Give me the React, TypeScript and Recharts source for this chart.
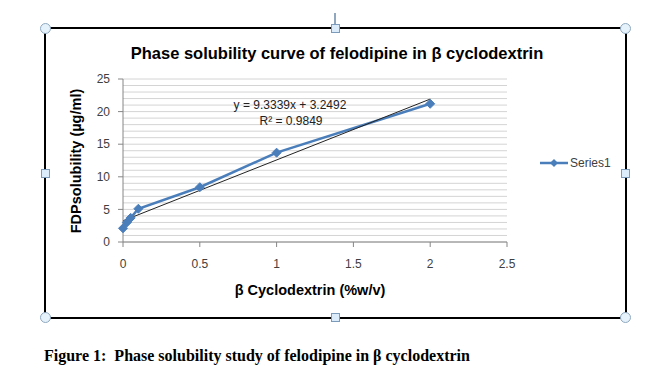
import { LineChart, Line, XAxis, YAxis, CartesianGrid, Legend } from 'recharts';

const concentration = [0, 0.025, 0.05, 0.1, 0.5, 1, 2];
const solubility = [2.1, 3.0, 3.7, 5.1, 8.4, 13.7, 21.2];
const trendX = [0, 2];
const trendY = [3.25, 21.92];
const xTicks = [0, 0.5, 1, 1.5, 2, 2.5];
const yTicks = [0, 5, 10, 15, 20, 25];
const yGrid = [0, 1, 2, 3, 4, 5, 6, 7, 8, 9, 10, 11, 12, 13, 14, 15, 16, 17, 18, 19, 20, 21, 22, 23, 24, 25];

const seriesData = concentration.map((x, i) => ({ x, y: solubility[i] }));
const trendData = trendX.map((x, i) => ({ x, y: trendY[i] }));

const FONT = '"Liberation Sans", Arial, sans-serif';
const BLUE = '#4a7ebb';

const Diamond = (props: any) => {
  const { cx, cy } = props;
  if (cx == null || cy == null) return null;
  const r = 4.5;
  return (
    <path
      d={`M${cx},${cy - r}L${cx + r},${cy}L${cx},${cy + r}L${cx - r},${cy}Z`}
      fill={BLUE}
      stroke={BLUE}
    />
  );
};

const LegendBox = () => (
  <div style={{ display: 'flex', alignItems: 'center', fontFamily: FONT, fontSize: 12, color: '#404040' }}>
    <svg width={28} height={10}>
      <line x1={0} y1={5} x2={28} y2={5} stroke={BLUE} strokeWidth={2.5} />
      <path d="M14,1L18,5L14,9L10,5Z" fill={BLUE} />
    </svg>
    <span style={{ marginLeft: 2 }}>Series1</span>
  </div>
);

const handleCircle = (x: number, y: number) => (
  <div
    style={{
      position: 'absolute',
      left: x - 5,
      top: y - 5,
      width: 9,
      height: 9,
      borderRadius: '50%',
      background: '#e6f2fb',
      border: '1px solid #8fa8bf',
    }}
  />
);

const handleSquare = (x: number, y: number) => (
  <div
    style={{
      position: 'absolute',
      left: x - 4,
      top: y - 4,
      width: 7,
      height: 7,
      background: '#dcecfa',
      border: '1px solid #7c9bbb',
    }}
  />
);

export default function App() {
  return (
    <div style={{ position: 'absolute', left: 0, top: 0, width: 661, height: 391, background: '#fff' }}>
      <div
        style={{
          position: 'absolute',
          left: 44,
          top: 27,
          width: 579,
          height: 288,
          border: '2px solid #000',
        }}
      />
      <div style={{ position: 'absolute', left: 334, top: 13, width: 2, height: 11, background: '#8fa8bf' }} />
      <div style={{ position: 'absolute', left: 0, top: 0 }}>
        <LineChart width={661} height={391} margin={{ top: 79, right: 154, bottom: 109, left: 83 }}>
          <CartesianGrid vertical={false} horizontalValues={yGrid} stroke="#d4d4d4" />
          <XAxis
            type="number"
            dataKey="x"
            domain={[0, 2.5]}
            ticks={xTicks}
            interval={0}
            height={40}
            tickSize={5}
            tickMargin={12}
            stroke="#868686"
            tick={{ fill: '#404040', fontSize: 12, fontFamily: FONT }}
          />
          <YAxis
            type="number"
            dataKey="y"
            domain={[0, 25]}
            ticks={yTicks}
            interval={0}
            width={40}
            tickSize={5}
            tickMargin={8}
            stroke="#868686"
            tick={{ fill: '#404040', fontSize: 12, fontFamily: FONT }}
          />
          <Legend
            layout="horizontal"
            verticalAlign="middle"
            align="center"
            wrapperStyle={{ left: 540, top: 156, width: 'auto' }}
            content={() => <LegendBox />}
          />
          <Line
            data={seriesData}
            dataKey="y"
            type="linear"
            stroke={BLUE}
            strokeWidth={2.5}
            dot={<Diamond />}
            isAnimationActive={false}
          />
          <Line
            data={trendData}
            dataKey="y"
            type="linear"
            stroke="#222"
            strokeWidth={1}
            dot={false}
            isAnimationActive={false}
          />
          <text x={337} y={59} textAnchor="middle" fontFamily={FONT} fontSize={16.5} fontWeight="bold" fill="#000">
            Phase solubility curve of felodipine in β cyclodextrin
          </text>
          <text x={290} y={109} textAnchor="middle" fontFamily={FONT} fontSize={12} fill="#222">
            y = 9.3339x + 3.2492
          </text>
          <text x={291} y={125} textAnchor="middle" fontFamily={FONT} fontSize={12} fill="#222">
            R² = 0.9849
          </text>
          <text x={310} y={295} textAnchor="middle" fontFamily={FONT} fontSize={14.5} fontWeight="bold" fill="#000">
            β Cyclodextrin (%w/v)
          </text>
          <text
            x={76}
            y={161}
            textAnchor="middle"
            dominantBaseline="central"
            transform="rotate(-90 76 161)"
            fontFamily={FONT}
            fontSize={14.5}
            fontWeight="bold"
            fill="#000"
          >
            FDPsolubility (µg/ml)
          </text>
        </LineChart>
      </div>
      {handleCircle(45, 28)}
      {handleCircle(625, 28)}
      {handleCircle(45, 317)}
      {handleCircle(625, 317)}
      {handleSquare(335, 28)}
      {handleSquare(45, 173)}
      {handleSquare(625, 173)}
      {handleSquare(335, 317)}
      <div
        style={{
          position: 'absolute',
          left: 44,
          top: 347,
          fontFamily: '"Liberation Serif", "Times New Roman", serif',
          fontWeight: 'bold',
          fontSize: 16,
          whiteSpace: 'pre',
          color: '#000',
        }}
      >
        {'Figure 1:  Phase solubility study of felodipine in β cyclodextrin'}
      </div>
    </div>
  );
}
